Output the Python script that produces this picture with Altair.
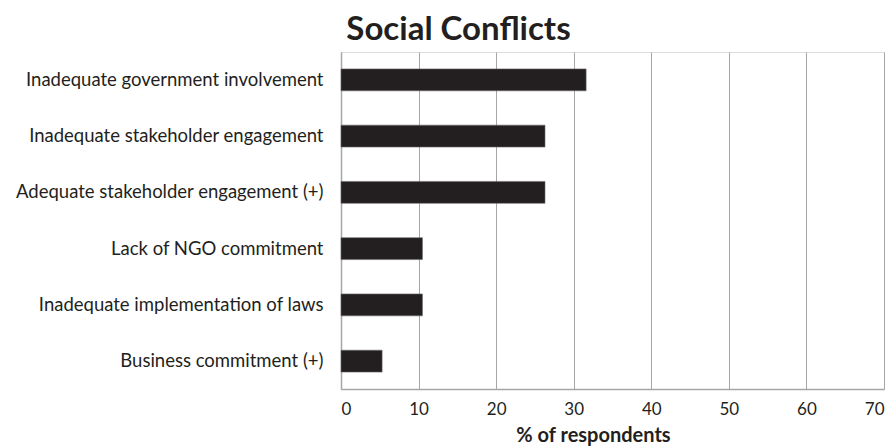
import altair as alt
import pandas as pd

categories = [
    "Inadequate government involvement",
    "Inadequate stakeholder engagement",
    "Adequate stakeholder engagement (+)",
    "Lack of NGO commitment",
    "Inadequate implementation of laws",
    "Business commitment (+)",
]
values = [31.6, 26.3, 26.3, 10.5, 10.5, 5.3]

df = pd.DataFrame({"category": categories, "value": values})

FONT = "Lato"

chart = (
    alt.Chart(df)
    .mark_bar(color="#231f20", stroke="#6e6b6b", strokeWidth=0.6)
    .encode(
        x=alt.X(
            "value:Q",
            scale=alt.Scale(domain=[0, 70], nice=False),
            axis=alt.Axis(
                values=[0, 10, 20, 30, 40, 50, 60, 70],
                title="% of respondents",
                titleFont=FONT,
                titleFontSize=20,
                titleFontWeight="bold",
                titleColor="#231f20",
                titleAnchor="middle",
                titleX=252,
                titlePadding=8,
                labelFont=FONT,
                labelFontSize=17,
                labelColor="#231f20",
                labelPadding=12,
                ticks=False,
                grid=True,
                gridColor="#a6a6a6",
                gridWidth=1,
                domainColor="#a6a6a6",
                domainWidth=1.5,
            ),
        ),
        y=alt.Y(
            "category:N",
            sort=categories,
            scale=alt.Scale(paddingInner=0.61, paddingOuter=0.3),
            axis=alt.Axis(
                title=None,
                labelFont=FONT,
                labelFontSize=18.5,
                labelColor="#231f20",
                labelPadding=18,
                labelLimit=400,
                ticks=False,
                domainColor="#a6a6a6",
                domainWidth=1.5,
            ),
        ),
    )
    .properties(
        width=543,
        height=337,
        title=alt.TitleParams(
            "Social Conflicts",
            font=FONT,
            fontSize=33,
            fontWeight="bold",
            color="#231f20",
            anchor="middle",
            dx=-154,
            offset=5,
        ),
        autosize=alt.AutoSizeParams(type="none"),
        padding={"left": 333, "top": 44, "right": 4, "bottom": 59},
    )
    .configure_view(stroke=None)
    .configure(background="white")
)

chart.save("out.html", embed_options={"renderer": "svg", "actions": False})
